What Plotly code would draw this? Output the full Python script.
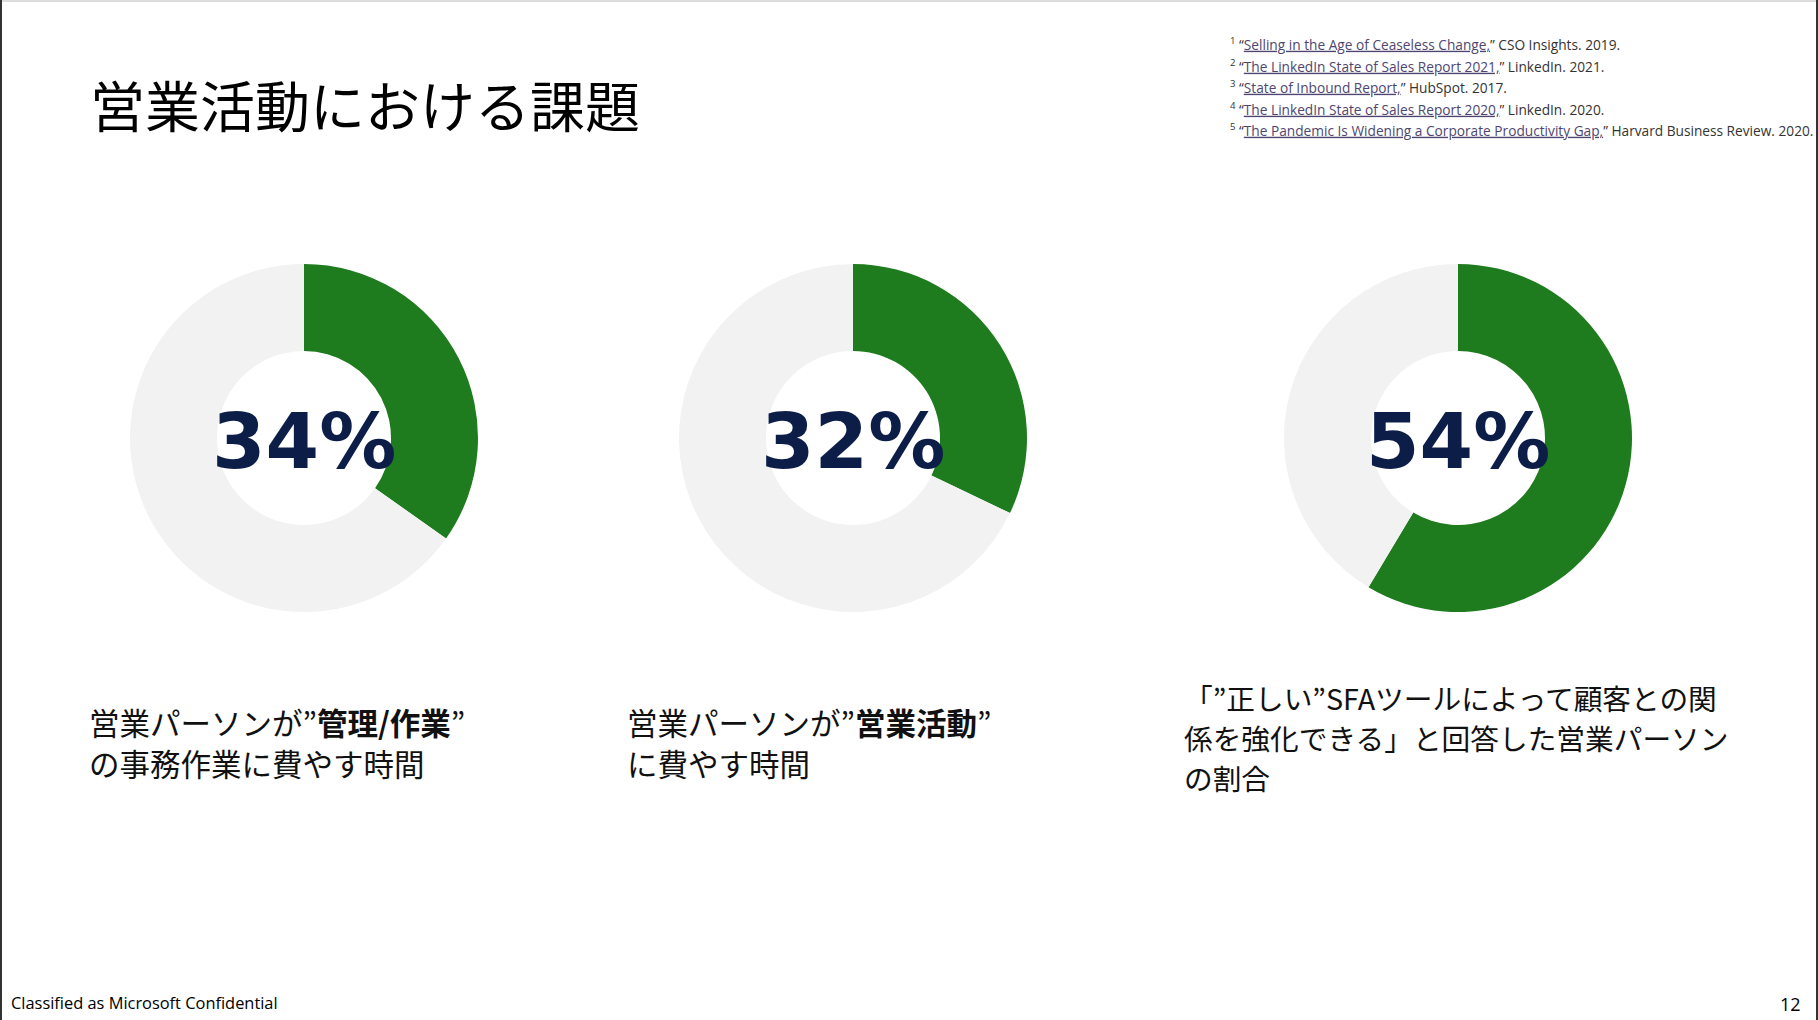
import plotly.graph_objects as go

W, H = 1818, 1020

# ---- data ----
# arc shares as drawn in the picture (green part), and the printed labels
arc_values = [34.8, 32.1, 58.6]
labels_pct = ["34%", "32%", "54%"]
desc_lines = [
    ["営業パーソンが”<b>管理/作業</b>”", "の事務作業に費やす時間"],
    ["営業パーソンが”<b>営業活動</b>”", "に費やす時間"],
    ["「”正しい”SFAツールによって顧客との関", "係を強化できる」と回答した営業パーソン", "の割合"],
]
title_text = "営業活動における課題"
footnotes = [
    ("1", "Selling in the Age of Ceaseless Change,", "CSO Insights. 2019."),
    ("2", "The LinkedIn State of Sales Report 2021,", "LinkedIn. 2021."),
    ("3", "State of Inbound Report,", "HubSpot. 2017."),
    ("4", "The LinkedIn State of Sales Report 2020,", "LinkedIn. 2020."),
    ("5", "The Pandemic Is Widening a Corporate Productivity Gap,", "Harvard Business Review. 2020."),
]
footer_left = "Classified as Microsoft Confidential"
page_no = "12"

GREEN = "#1E7B1E"
GREY = "#F2F2F2"
NAVY = "#0C1E48"

# donut geometry in pixels (centre x, centre y, radius)
centers_x = [304, 853, 1458]
center_y = 438
radius = 174


def px_x(x):
    return x / W


def px_y(y):
    return 1 - y / H


fig = go.Figure()
for i, v in enumerate(arc_values):
    cx = centers_x[i]
    fig.add_trace(go.Pie(
        values=[v, 100 - v],
        labels=["該当", "その他"],
        hole=0.5,
        sort=False,
        direction="clockwise",
        rotation=0,
        marker=dict(colors=[GREEN, GREY], line=dict(width=0)),
        textinfo="none",
        hoverinfo="none",
        showlegend=False,
        domain=dict(x=[px_x(cx - radius), px_x(cx + radius)],
                    y=[px_y(center_y + radius), px_y(center_y - radius)]),
    ))

annotations = []
# big percentages
for i, t in enumerate(labels_pct):
    annotations.append(dict(
        text=t, x=px_x(centers_x[i]), y=px_y(center_y + 3), xref="paper", yref="paper",
        xanchor="center", yanchor="middle", showarrow=False,
        font=dict(family="DejaVu Sans", size=77, color=NAVY, weight="bold"),
    ))

# title
annotations.append(dict(
    text=title_text, x=px_x(88), y=px_y(103), xref="paper", yref="paper",
    xanchor="left", yanchor="middle", showarrow=False,
    font=dict(family="Noto Sans CJK JP", size=55, color="#000000"),
))

# descriptions (one annotation per line)
desc_x = [88, 626, 1183]
desc_y0 = [722, 722, 697]
desc_step = [41, 41, 40]
desc_size = [30.5, 30.5, 28.7]
for k, lines in enumerate(desc_lines):
    for j, line in enumerate(lines):
        annotations.append(dict(
            text=line, x=px_x(desc_x[k]), y=px_y(desc_y0[k] + j * desc_step[k]),
            xref="paper", yref="paper",
            xanchor="left", yanchor="middle", align="left", showarrow=False,
            borderpad=0,
            font=dict(family="Noto Sans CJK JP", size=desc_size[k], color="#111111"),
        ))

# footnotes
foot_y = [44, 66, 87, 109, 130]
for (n, link, rest), y in zip(footnotes, foot_y):
    txt = (f"<sup>{n}</sup> “<span style='color:#4E4670'><u>{link}</u></span>” {rest}")
    annotations.append(dict(
        text=txt, x=px_x(1228), y=px_y(y), xref="paper", yref="paper",
        xanchor="left", yanchor="middle", align="left", showarrow=False,
        font=dict(family="Open Sans", size=13.7, color="#333333"),
    ))

# footer
annotations.append(dict(
    text=footer_left, x=px_x(9), y=px_y(1002), xref="paper", yref="paper",
    xanchor="left", yanchor="middle", showarrow=False,
    font=dict(family="Open Sans", size=16.4, color="#000000"),
))
annotations.append(dict(
    text=page_no, x=px_x(1803), y=px_y(1004), xref="paper", yref="paper",
    xanchor="right", yanchor="middle", showarrow=False,
    font=dict(family="Open Sans", size=18, color="#000000"),
))

shapes = [
    dict(type="rect", xref="paper", yref="paper", x0=0, x1=1, y0=px_y(2), y1=1,
         fillcolor="#DDDDDD", line=dict(width=0), layer="above"),
    dict(type="rect", xref="paper", yref="paper", x0=0, x1=px_x(2), y0=0, y1=1,
         fillcolor="#333333", line=dict(width=0), layer="above"),
    dict(type="rect", xref="paper", yref="paper", x0=px_x(1816), x1=1, y0=0, y1=1,
         fillcolor="#333333", line=dict(width=0), layer="above"),
]

fig.update_layout(
    width=W, height=H,
    margin=dict(l=0, r=0, t=0, b=0),
    paper_bgcolor="white", plot_bgcolor="white",
    annotations=annotations,
    shapes=shapes,
)

fig.write_html("out.html", config={"displayModeBar": False})
